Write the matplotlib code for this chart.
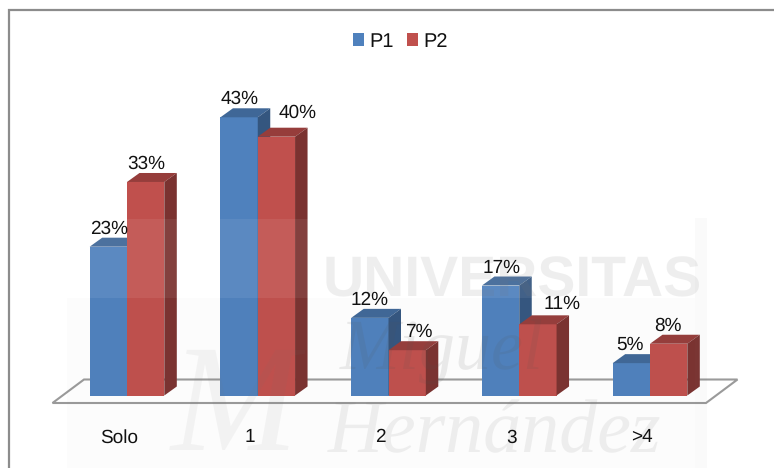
import matplotlib
matplotlib.use("Agg")
import matplotlib.pyplot as plt
from matplotlib.patches import Polygon, Rectangle

plt.rcParams['font.family'] = ['Liberation Sans', 'DejaVu Sans']
plt.rcParams['text.hinting'] = 'no_hinting'
plt.rcParams['text.hinting_factor'] = 1

categories = ["Solo", "1", "2", "3", ">4"]
p1 = [23, 43, 12, 17, 5]
p2 = [33, 40, 7, 11, 8]
# hand moved labels in the original, offset from bar centre in px
p1_dx = [1, 0, 0, 1, -1]
p1_dy = [13, 13, 13, 13, 13]
p2_dx = [1, 21, 12, 24, -1]
p2_dy = [13, 19, 13, 15, 13]

W, H = 774, 468
x0, step = 127, 130.75     # px of first group, px between groups
y0, unit = 395.5, 6.47     # px of baseline, px per percent
bar_w = 37.3 / step
dx, dy = 12.5 / step, 9 / unit

blue, blue_top, blue_side = "#4F81BD", "#3F6797", "#34567F"
red, red_top, red_side = "#C0504D", "#963D3B", "#7A3230"
ink = "#111111"

fig = plt.figure(figsize=(W / 100, H / 100), dpi=100)
ax = fig.add_axes([0, 0, 1, 1])
ax.set_xlim(-x0 / step, (W - x0) / step)
ax.set_ylim(-(H - y0) / unit, y0 / unit)
ax.axis("off")


def px(x, y):
    # picture pixels to data coordinates
    return ((x - x0) / step, (y0 - y) / unit)


# outer frame
ax.add_patch(Polygon([px(8.5, 468), px(8.5, 10), px(774, 10)], closed=False, fill=False,
                     ec="#8C8C8C", lw=1.6, zorder=1))

# floor
ax.add_patch(Polygon([px(52.5, 403), px(84, 379.5), px(737.5, 379.5), px(706, 403)],
                     fc="white", ec="#9A9A9A", lw=1.5, zorder=1))


def bar3d(x, v, face, top, side, z):
    ax.bar(x, v, width=bar_w, color=face, align="edge", zorder=z)
    ax.add_patch(Polygon([(x, v), (x + dx, v + dy), (x + bar_w + dx, v + dy), (x + bar_w, v)],
                         fc=top, ec="none", zorder=z))
    ax.add_patch(Polygon([(x + bar_w, 0), (x + bar_w + dx, dy), (x + bar_w + dx, v + dy), (x + bar_w, v)],
                         fc=side, ec="none", zorder=z))


for i in range(len(categories)):
    bar3d(i - bar_w, p1[i], blue, blue_top, blue_side, 3)
    bar3d(i, p2[i], red, red_top, red_side, 4)
    ax.annotate(f"{p1[i]}%", (i - bar_w / 2, p1[i]), xytext=(p1_dx[i], p1_dy[i]),
                textcoords="offset pixels", ha="center", va="baseline", fontsize=14, color=ink, zorder=8)
    ax.annotate(f"{p2[i]}%", (i + bar_w / 2, p2[i]), xytext=(p2_dx[i], p2_dy[i]),
                textcoords="offset pixels", ha="center", va="baseline", fontsize=14, color=ink, zorder=8)
    ax.annotate(categories[i], (i, 0), xytext=(-8, -47), textcoords="offset pixels",
                ha="center", va="baseline", fontsize=14, color=ink, zorder=8)

# faint watermark laid over the bars
ax.add_patch(Rectangle(px(67, 298), 628 / step, 79 / unit, fc="white", ec="none", alpha=0.07, zorder=6))
ax.add_patch(Rectangle(px(67, 468), 628 / step, 170 / unit, fc="#808080", ec="none", alpha=0.02, zorder=6))
ax.add_patch(Rectangle(px(695, 468), 12 / step, 250 / unit, fc="#808080", ec="none", alpha=0.04, zorder=6))
ax.text(*px(512, 296), "UNIVERSITAS", fontsize=41, fontweight="bold", color="#777777", alpha=0.12,
        ha="center", va="baseline", zorder=6)
ax.text(*px(442, 370), "Miguel", fontsize=52, family=["Liberation Serif"], style="italic", color="#555555",
        alpha=0.11, ha="center", va="baseline", zorder=6)
ax.text(*px(495, 452), "Hernández", fontsize=55, family=["Liberation Serif"], style="italic", color="#777777",
        alpha=0.11, ha="center", va="baseline", zorder=6)
ax.text(*px(235, 450), "M", fontsize=110, family=["Liberation Serif"], style="italic", color="#777777",
        alpha=0.07, ha="center", va="baseline", zorder=6)

# legend
handles = [Rectangle((0, 0), 1, 1, fc=blue), Rectangle((0, 0), 1, 1, fc=red)]
ax.legend(handles, ["P1", "P2"], loc="center", bbox_to_anchor=(400.5 / W, 1 - 41.5 / H), ncol=2, frameon=False,
          fontsize=14.5, handlelength=0.55, handleheight=0.55, handletextpad=0.25, columnspacing=0.65,
          labelcolor=ink, borderpad=0, borderaxespad=0)

fig.savefig("out.png", dpi=100)
